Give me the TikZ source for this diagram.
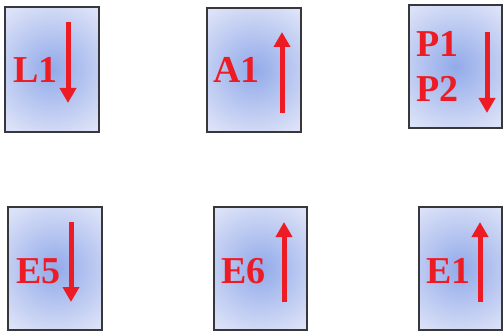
\documentclass[tikz,border=0pt]{standalone}
\usepackage{fontspec}
\setmainfont{Liberation Serif}[BoldFont={Liberation Serif Bold}]
\newfontfamily\lblfont{Liberation Serif Bold}
\usetikzlibrary{arrows.meta}
\definecolor{boxin}{RGB}{146,170,234}
\definecolor{boxout}{RGB}{220,226,247}
\definecolor{boxline}{RGB}{55,55,60}
\definecolor{arrred}{RGB}{237,28,36}
\tikzset{
  lbl/.style={anchor=base west, inner sep=0pt, text=arrred,
    font=\lblfont\fontsize{38}{45}\selectfont},
  flow/.style={draw=arrred, line width=5pt,
    -{Triangle[width=16pt,length=15pt]}, arrred}
}
\newcommand{\panelbox}[4]{%
  \fill[boxout] (#1,#2) rectangle (#3,#4);
  \begin{scope}
    \clip (#1,#2) rectangle (#3,#4);
    \shade[inner color=boxin, outer color=boxout]
      ({(#1+#3)/2},{(#2+#4)/2}) circle (72);
  \end{scope}
  \draw[boxline, line width=1.1pt] (#1,#2) rectangle (#3,#4);
}
\begin{document}
\begin{tikzpicture}[x=1pt,y=-1pt]
\useasboundingbox (0,0) rectangle (503,331);
% boxes
\panelbox{5}{7}{99}{132}
\panelbox{207}{8}{301}{132}
\panelbox{409}{5}{502}{128}
\panelbox{8}{207}{102}{330}
\panelbox{214}{207}{307}{330}
\panelbox{419}{207}{502}{330}
% labels
\node[lbl] (L1) at (13,83) {L1};
\node[lbl] (A1) at (213,83) {A1};
\node[lbl] (P1) at (416,57) {P1};
\node[lbl] (P2) at (416,102) {P2};
\node[lbl] (E5) at (16,283) {E5};
\node[lbl] (E6) at (221,283) {E6};
\node[lbl] (E1) at (426,283) {E1};
% arrows
\coordinate (l1s) at (68,22);  \coordinate (l1e) at (68,103);
\coordinate (a1s) at (282,113); \coordinate (a1e) at (282,32);
\coordinate (ps) at (487,32);  \coordinate (pe) at (487,113);
\coordinate (e5s) at (71,222); \coordinate (e5e) at (71,302);
\coordinate (e6s) at (284,302); \coordinate (e6e) at (284,222);
\coordinate (e1s) at (480,302); \coordinate (e1e) at (480,222);
\draw[flow] (l1s) -- (l1e);
\draw[flow] (a1s) -- (a1e);
\draw[flow] (ps) -- (pe);
\draw[flow] (e5s) -- (e5e);
\draw[flow] (e6s) -- (e6e);
\draw[flow] (e1s) -- (e1e);
\end{tikzpicture}
\end{document}
